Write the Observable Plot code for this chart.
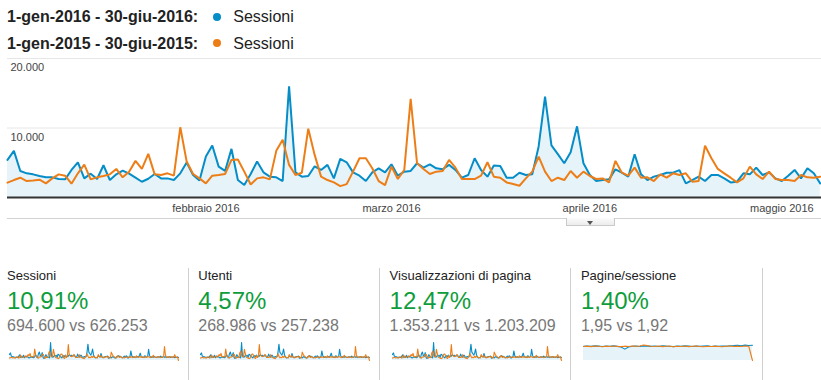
<!DOCTYPE html>
<html><head><meta charset="utf-8">
<script src="https://cdn.jsdelivr.net/npm/d3@7"></script>
<script src="https://cdn.jsdelivr.net/npm/@observablehq/plot@0.6"></script>
<style>
body{margin:0;background:#fff;font-family:"Liberation Sans",Arial,Helvetica,sans-serif;}
#root{position:relative;width:821px;height:380px;overflow:hidden;}
.abs{position:absolute;white-space:nowrap;}
</style></head><body><div id="root"></div>
<script>
// ---------- DATA ----------
const rangeLabels = ["1-gen-2016 - 30-giu-2016:", "1-gen-2015 - 30-giu-2015:"];
const seriesName = "Sessioni";

// Daily sessions, day 0 = 1 Jan (2016 and the matching 2015 day) (days 0..127)
const sess2016 = [5410,6710,3820,3480,3330,3090,2900,2900,2660,2610,3960,5070,2750,3430,2660,4640,2510,3330,3860,3430,
  2850,2270,2700,3380,2750,2750,2510,3480,5020,3240,2460,5890,7490,4440,3820,7000,2510,1790,3380,5170,
  3620,3000,2900,2370,16000,3620,3000,3090,4490,3960,4690,2750,5560,5070,3620,3140,2370,3620,4200,3620,
  4780,3140,3720,3820,4930,4300,4780,4200,4060,4690,3960,2850,3240,5650,3960,3000,4590,4540,2850,2850,
  3570,3240,3330,7340,14500,7490,6230,4930,6520,10240,4930,3240,2370,2510,2610,4060,3570,3000,6230,3330,
  2510,3000,3240,3570,3570,3930,2030,2510,3000,2370,3240,3240,2750,2170,2270,3480,3330,4300,3240,3620,
  2750,2370,3140,3960,2750,4200,3480,2030];
const sess2015 = [2130,2510,2850,2370,2460,2560,2030,2750,3330,3140,1980,3480,4730,2610,2900,3090,3330,4110,2900,3720,
  5270,4110,6280,3330,3240,3480,3140,10100,5170,3380,2750,2030,3140,3240,3380,5410,5460,3720,1880,2750,
  2900,2610,6710,8310,4690,3240,3570,9900,6130,3000,2510,2170,1640,1930,3720,5650,5650,4200,2370,1790,
  4440,2660,3960,14200,4930,4110,3380,3720,3820,5410,4300,2660,2660,2660,3140,5070,3000,2850,2170,1930,
  1690,2750,3720,5890,3720,2370,2850,2510,3820,2850,3720,3090,2660,2750,2170,5270,3570,3140,4300,2850,
  2900,2370,3330,2850,3480,3240,3480,2270,2370,7440,5650,4110,3480,2850,2170,2750,4440,3330,2660,3720,
  2660,2510,2510,2370,3240,2900,2850,3000];
// Remaining days (128..181, up to 30 June), read roughly from the "Sessioni" sparkline
const sessTail2016 = [2900,3400,8500,4200,3100,2800,3300,2600,3000,3500,2900,4100,6500,3600,2800,3200,2700,4300,3100,2900,
  3800,10000,4500,3000,2700,3300,2900,3600,3100,2600,3000,3400,2800,3200,3900,2700,3000,3500,2900,3300,
  2600,3100,2800,3400,3000,2700,3200,2900,3300,2500,3000,2800,3100,2700];
const sessTail2015 = [3100,2700,3300,2900,2600,3500,3000,2800,4200,3100,2700,3300,2900,3600,2800,3100,2600,3400,3000,2700,
  3800,3200,2900,2600,3300,3000,4600,3100,2800,2700,3200,2900,3500,3000,2600,3100,2800,3400,12500,4800,
  3100,2700,3300,2900,3600,3000,2800,3200,2900,5200,3000,2700,3100,0];
// Pages per session, sampled every 4 days (sparkline)
const pps2016 = [1.92,1.98,1.93,1.99,1.95,1.90,1.97,1.93,1.99,1.92,1.85,1.55,1.84,1.93,1.98,1.91,1.99,1.95,1.92,1.98,
  1.91,1.99,1.95,1.93,1.89,1.98,1.93,1.99,1.95,1.91,1.98,1.93,1.96,2.00,1.91,1.96,1.93,1.98,1.95,2.00,
  2.03,2.08,2.00,2.09,2.04,2.07];
const pps2015 = [1.91,1.95,1.89,1.96,1.93,1.88,1.95,1.91,1.97,1.92,1.89,1.95,1.91,1.98,1.93,1.96,2.12,2.02,1.94,1.91,
  1.97,1.89,1.93,1.95,1.88,1.94,1.91,1.97,1.89,1.93,1.95,1.91,1.88,1.94,1.90,1.95,1.91,1.88,1.93,1.97,
  1.91,1.95,1.90,1.98,1.94,0];

const yTicks = [10000, 20000];
const yTickLabels = ["10.000", "20.000"];
const monthTicks = ["2016-02-01", "2016-03-01", "2016-04-01", "2016-05-01"];
const monthLabels = ["febbraio 2016", "marzo 2016", "aprile 2016", "maggio 2016"];

const metricNames = ["Sessioni", "Utenti", "Visualizzazioni di pagina", "Pagine/sessione"];
const metricChange = ["10,91%", "4,57%", "12,47%", "1,40%"];
const metricCompare = ["694.600 vs 626.253", "268.986 vs 257.238", "1.353.211 vs 1.203.209", "1,95 vs 1,92"];

// ---------- STYLE ----------
const BLUE = "#058dc7", ORANGE = "#ed7e17", FILL = "#e6f3f9", GREEN = "#0f9d3b";
const FONT = '"Liberation Sans", Arial, Helvetica, sans-serif';
const root = document.getElementById("root");
function addDiv(x, y, text, css) {
  const d = document.createElement("div");
  d.className = "abs";
  d.style.left = x + "px"; d.style.top = y + "px";
  if (text != null) d.textContent = text;
  Object.assign(d.style, css || {});
  root.appendChild(d);
  return d;
}

// ---------- LEGEND ----------
[BLUE, ORANGE].forEach((c, i) => {
  const top = 9.2 + i * 26.6;
  addDiv(7, top, rangeLabels[i], {fontSize: "16px", lineHeight: "16px", fontWeight: "bold", color: "#222"});
  addDiv(212.7, top + 3.3, null, {width: "8px", height: "8px", borderRadius: "50%", background: c});
  addDiv(233.3, top, seriesName, {fontSize: "16px", lineHeight: "16px", color: "#222"});
});

// ---------- MAIN CHART ----------
const DAY = 86400000;
const day0 = Date.UTC(2016, 0, 1);
const rows2016 = sess2016.map((v, i) => ({date: new Date(day0 + i * DAY), v}));
const rows2015 = sess2015.map((v, i) => ({date: new Date(day0 + i * DAY), v}));
const tickDates = monthTicks.map(s => new Date(s + "T00:00:00Z"));
const labelByTime = new Map(tickDates.map((d, i) => [+d, monthLabels[i]]));

const main = Plot.plot({
  width: 821, height: 178,
  marginLeft: 7, marginRight: 0, marginTop: 8, marginBottom: 31,
  style: {fontFamily: FONT, color: "#444", background: "transparent", overflow: "visible"},
  x: {type: "utc", domain: [new Date(day0), new Date(day0 + 127.2 * DAY)]},
  y: {domain: [0, 20000], axis: null},
  marks: [
    Plot.ruleY(yTicks, {stroke: "#e6e6e6", strokeWidth: 1}),
    Plot.areaY(rows2016, {x: "date", y: "v", fill: FILL}),
    Plot.lineY(rows2016, {x: "date", y: "v", stroke: BLUE, strokeWidth: 2, strokeLinejoin: "miter"}),
    Plot.lineY(rows2015, {x: "date", y: "v", stroke: ORANGE, strokeWidth: 2, strokeLinejoin: "miter"}),
    Plot.ruleY([0], {stroke: "#333", strokeWidth: 2}),
    Plot.text(yTicks, {y: d => d, text: (d, i) => yTickLabels[i], frameAnchor: "left", textAnchor: "start",
      dx: 3, dy: 9, fontSize: 11, fill: "#444"}),
    Plot.axisX(tickDates, {tickSize: 0, tickPadding: 7, fontSize: 11, tickFormat: d => labelByTime.get(+d)})
  ]
});
main.style.position = "absolute"; main.style.left = "0px"; main.style.top = "50px";
root.appendChild(main);

// separator + tab under the chart
addDiv(7, 217.5, null, {width: "814px", height: "1px", background: "#d2d2d2"});
addDiv(566, 218, null, {width: "47px", height: "7px", background: "linear-gradient(#fbfbfb,#ececec)",
  border: "1px solid #cacaca", borderTop: "none"});
addDiv(586.5, 220.5, null, {width: "0", height: "0", borderLeft: "3.5px solid transparent",
  borderRight: "3.5px solid transparent", borderTop: "4px solid #555"});

// ---------- METRICS ----------
const full2016 = sess2016.concat(sessTail2016);
const full2015 = sess2015.concat(sessTail2015);
const sparkData = [
  [full2016, full2015, d3.max(full2016.concat(full2015))],
  [full2016, full2015, d3.max(full2016.concat(full2015))],
  [full2016, full2015, d3.max(full2016.concat(full2015))],
  [pps2016, pps2015, 2.45]
];
function spark(a, b, maxV) {
  const A = a.map((v, i) => ({i, v})), B = b.map((v, i) => ({i, v}));
  return Plot.plot({
    width: 169, height: 18, margin: 0,
    style: {background: "transparent", overflow: "visible"},
    x: {domain: [0, a.length - 1], axis: null},
    y: {domain: [0, maxV], axis: null},
    marks: [
      Plot.areaY(A, {x: "i", y: "v", fill: FILL}),
      Plot.lineY(A, {x: "i", y: "v", stroke: BLUE, strokeWidth: 1.1}),
      Plot.lineY(B, {x: "i", y: "v", stroke: ORANGE, strokeWidth: 1.1})
    ]
  });
}
metricNames.forEach((name, i) => {
  const x = 7 + i * 191.3;
  addDiv(x, 269, name, {fontSize: "13px", lineHeight: "13px", color: "#222"});
  addDiv(x, 289, metricChange[i], {fontSize: "24px", lineHeight: "24px", color: GREEN});
  addDiv(x, 317.5, metricCompare[i], {fontSize: "16px", lineHeight: "16px", color: "#777"});
  const s = spark(...sparkData[i]);
  s.style.position = "absolute"; s.style.left = (x + 2) + "px"; s.style.top = "341.5px";
  root.appendChild(s);
  addDiv(x + 180.7, 268.3, null, {width: "1px", height: "112px", background: "#cfcfcf"});
});
</script></body></html>
